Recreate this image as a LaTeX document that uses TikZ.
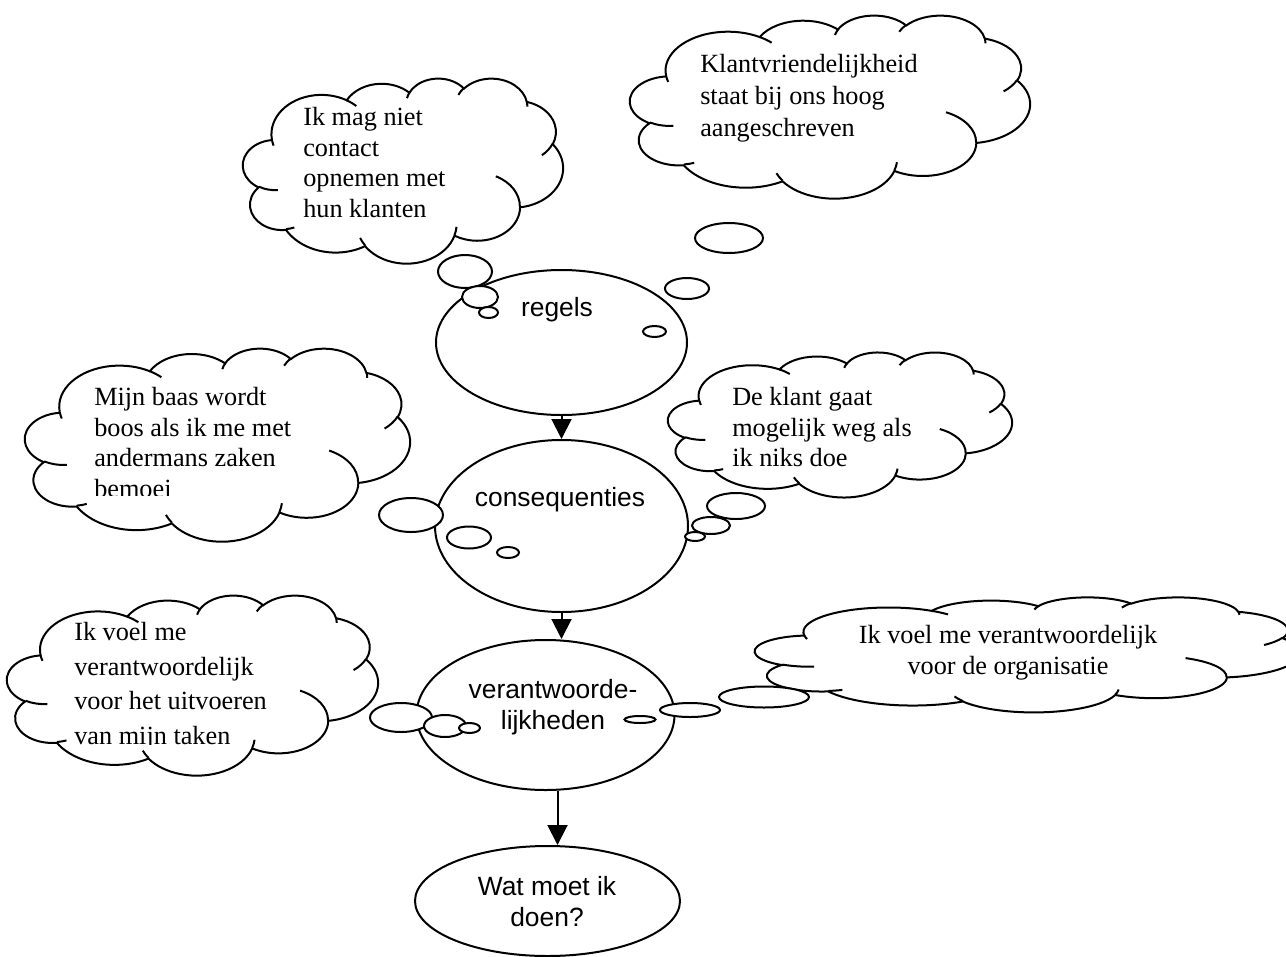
\documentclass[tikz,border=0pt]{standalone}
\usepackage{fontspec}
\setmainfont{Liberation Serif}
\setsansfont{Liberation Sans}
\usetikzlibrary{shapes.geometric}
\usetikzlibrary{arrows.meta}

\tikzset{
  declare function={va(\w,\h,\a)=atan2(\w*sin(\a),\h*cos(\a));},
  lijn/.style={line width=1.5pt},
  ovaal/.style 2 args={lijn, draw, fill=white, ellipse, inner sep=0pt,
    minimum width=#1*1.5pt, minimum height=#2*1.5pt},
  pijl/.style={lijn, -{Triangle[length=15pt,width=15pt]}},
  bel/.style={lijn, fill=white},
  wolktekst/.style={font=\fontsize{19.7}{23}\selectfont, align=left,
    inner sep=0pt, anchor=north west},
  vraag/.style={font=\sffamily\fontsize{19.8}{23}\selectfont, align=center,
    inner sep=0pt, anchor=north}
}

% one bump of a cloud: x radius, y radius, start angle, sweep
\newcommand\wboog[4]{arc[x radius=#1, y radius=#2, start angle={va(#1,#2,#3)},
  end angle={va(#1,#2,#3)+mod(va(#1,#2,#3+#4)-va(#1,#2,#3)+720,360)}]}

% cloud in a box: left, top, width, height
\newcommand\wolk[4]{%
\begin{scope}[shift={(#1,#2)},xscale=#3/43.2,yscale=#4/43.2]
\filldraw[lijn,fill=white] (3.9,14.37) \wboog{6.753}{9.19}{-190.4875}{123.7805}
  \wboog{5.333}{7.267}{-144.1024}{89.9452}
  \wboog{4.365}{5.945}{-145.8079}{99.723}
  \wboog{4.857}{6.595}{-130.9861}{117.2417}
  \wboog{5.333}{7.273}{-78.7089}{109.0269}
  \wboog{6.775}{9.22}{-46.2673}{130.269}
  \wboog{5.785}{7.867}{0.625}{114.0333}
  \wboog{6.752}{9.215}{22.4516}{115.1726}
  \wboog{7.72}{10.543}{66.2426}{75.711}
  \wboog{4.36}{5.918}{-274.9421}{146.7356}
  \wboog{4.345}{5.945}{-246.8285}{152.5189} -- cycle;
\draw[lijn] (4.693,26.177) \wboog{4.345}{5.945}{86.742}{26.4295}
  (6.928,34.899) \wboog{4.36}{5.918}{73.6105}{11.4475}
  (16.478,39.09) \wboog{6.752}{9.215}{137.6242}{14.0811}
  (28.827,34.751) \wboog{6.752}{9.215}{6.4533}{15.9984}
  (34.129,22.954) \wboog{5.785}{7.867}{-70.2924}{70.9174}
  (41.798,15.354) \wboog{5.333}{7.273}{30.318}{27.7515}
  (38.324,5.426) \wboog{4.857}{6.595}{-13.7443}{14.8589}
  (29.078,3.952) \wboog{4.857}{6.595}{-149.1815}{18.1954}
  (22.141,4.72) \wboog{4.365}{5.945}{-163.4943}{17.6864}
  (14,5.192) \wboog{6.753}{9.19}{-66.707}{12.3194}
  (4.127,15.789) \wboog{6.753}{9.19}{157.6544}{11.8582};
\end{scope}}

\begin{document}
\begin{tikzpicture}[x=0.75pt,y=-0.75pt]
\useasboundingbox (0,0) rectangle (1286,957);
\clip (0,0) rectangle (1286,957);
% main ellipses
\node[ovaal={125.5}{72.5}] (regels) at (561.5,342.5) {};
\node[ovaal={126.5}{86}] (gevolg) at (561.5,526) {};
\node[ovaal={129}{75}] (verant) at (545.5,715) {};
\node[ovaal={132.5}{55}] (wat) at (547.5,901) {};
\draw[pijl] (regels.south) -- (gevolg.north);
\draw[pijl] (gevolg.south) -- (gevolg.south |- verant.north);
\draw[pijl] ([xshift=9pt]verant.south) -- ([xshift=9pt]verant.south |- wat.north);
% clouds
\wolk{243}{78}{320}{185}
\wolk{630}{15}{400}{183}
\wolk{25}{348}{385}{193}
\wolk{668}{352}{344}{145}
\wolk{7}{595}{371}{180}
\wolk{755}{597}{545}{115}
% small bubbles
\foreach \bx/\by/\brx/\bry in {465/271.5/27/16.5, 480/297/18/11, 488.5/312.5/9.5/5.5,
    729/238/34/15, 687/288.5/22/10.5, 654.5/331.5/11.5/5.5,
    411/515/32/17, 469/537.5/22/11, 508/552.5/11/5.5,
    736/506/29/13, 711/525.5/19/8.5, 695/536.5/10/4.5,
    401/717.5/31/14.5, 445/726/21/11, 469.5/728/10.5/5,
    764/697/45/10.5, 690/710/30/7, 640/719.5/15.5/3.5}
  \filldraw[bel] (\bx,\by) ellipse [x radius=\brx, y radius=\bry];
% texts
\node[vraag] (tregels) at (557,297) {regels};
\node[vraag] (tgevolg) at (560,487) {consequenties};
\node[vraag] (tverant) at (553,679) {verantwoorde-\\lijkheden};
\node[vraag] (twat) at (547,876) {Wat moet ik\\doen?};
\node[wolktekst] (mag) at (303,107) {Ik mag niet\\contact\\opnemen met\\hun klanten};
\node[wolktekst, font=\fontsize{19.7}{24}\selectfont] (klant) at (700,54) {Klantvriendelijkheid\\staat bij ons hoog\\aangeschreven};
\begin{scope}
\clip (0,0) rectangle (1286,495.5);
\node[wolktekst] (baas) at (94,387) {Mijn baas wordt\\boos als ik me met\\andermans zaken\\bemoei};
\end{scope}
\node[wolktekst] (weg) at (732,387) {De klant gaat\\mogelijk weg als\\ik niks doe};
\begin{scope}
\clip (0,0) rectangle (1286,744.5);
\node[wolktekst, font=\fontsize{19.7}{26}\selectfont] (taken) at (74,622) {Ik voel me\\verantwoordelijk\\voor het uitvoeren\\van mijn taken};
\end{scope}
\node[wolktekst, anchor=north, align=center] (organisatie) at (1008,625) {Ik voel me verantwoordelijk\\voor de organisatie};
\end{tikzpicture}
\end{document}
